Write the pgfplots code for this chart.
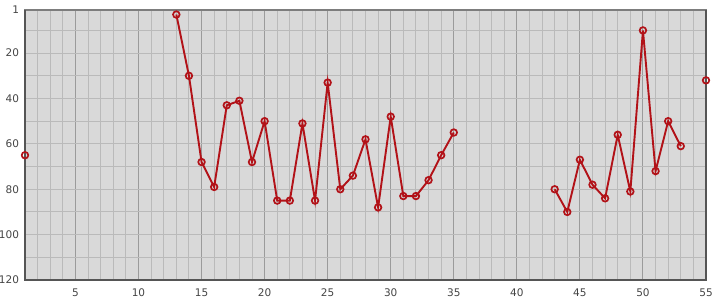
\documentclass[border=0pt]{standalone}
\usepackage{pgfplots}
\pgfplotsset{compat=1.18}
\usepackage{fontspec}
\setmainfont{DejaVu Sans}
\definecolor{bg}{RGB}{217,217,217}
\definecolor{gridminor}{RGB}{186,186,186}
\definecolor{gridmajor}{RGB}{155,155,155}
\definecolor{frame}{RGB}{125,125,125}
\definecolor{frameD}{RGB}{85,85,85}
\definecolor{series}{RGB}{178,18,24}
\definecolor{txt}{RGB}{68,68,68}
\begin{document}
\begin{tikzpicture}
\path[use as bounding box] (-25pt,-20pt) rectangle (690pt,280pt);
\begin{axis}[
  scale only axis, width=681pt, height=270pt,
  xmin=1, xmax=55, ymin=1, ymax=120, y dir=reverse,
  axis background/.style={fill=bg},
  xtick={5,10,...,55}, ytick={1,20,40,60,80,100,120},
  minor xtick={2,...,54}, minor ytick={10,20,...,110},
  grid=both,
  major grid style={draw=gridmajor, line width=0.9pt},
  minor grid style={draw=gridminor, line width=0.9pt},
  ymajorgrids=false,
  major tick length=0pt, minor tick length=0pt,
  axis line style={draw=frame, line width=1.6pt},
  tick label style={font=\fontsize{10.5}{12}\selectfont, text=txt},
  xticklabel style={yshift=-5pt},
  yticklabel style={xshift=-2.5pt},
  /pgf/number format/assume math mode=true,
  unbounded coords=jump,
  clip=false,
]
\addplot[series, line width=1.9pt, mark=o, mark size=3.3pt,
  mark options={fill=white, line width=1.7pt}] coordinates {
(1,65) (2,nan)
(13,3) (14,30) (15,68) (16,79) (17,43) (18,41) (19,68) (20,50) (21,85) (22,85)
(23,51) (24,85) (25,33) (26,80) (27,74) (28,58) (29,88) (30,48) (31,83) (32,83)
(33,76) (34,65) (35,55) (36,nan)
(43,80) (44,90) (45,67) (46,78) (47,84) (48,56) (49,81) (50,10) (51,72) (52,50)
(53,61) (54,nan)
(55,32)
};
\draw[frameD, line width=2.6pt] (rel axis cs:0,1) -- (rel axis cs:0,0) -- (rel axis cs:1,0) -- (rel axis cs:1,1);
\end{axis}
\end{tikzpicture}
\end{document}
